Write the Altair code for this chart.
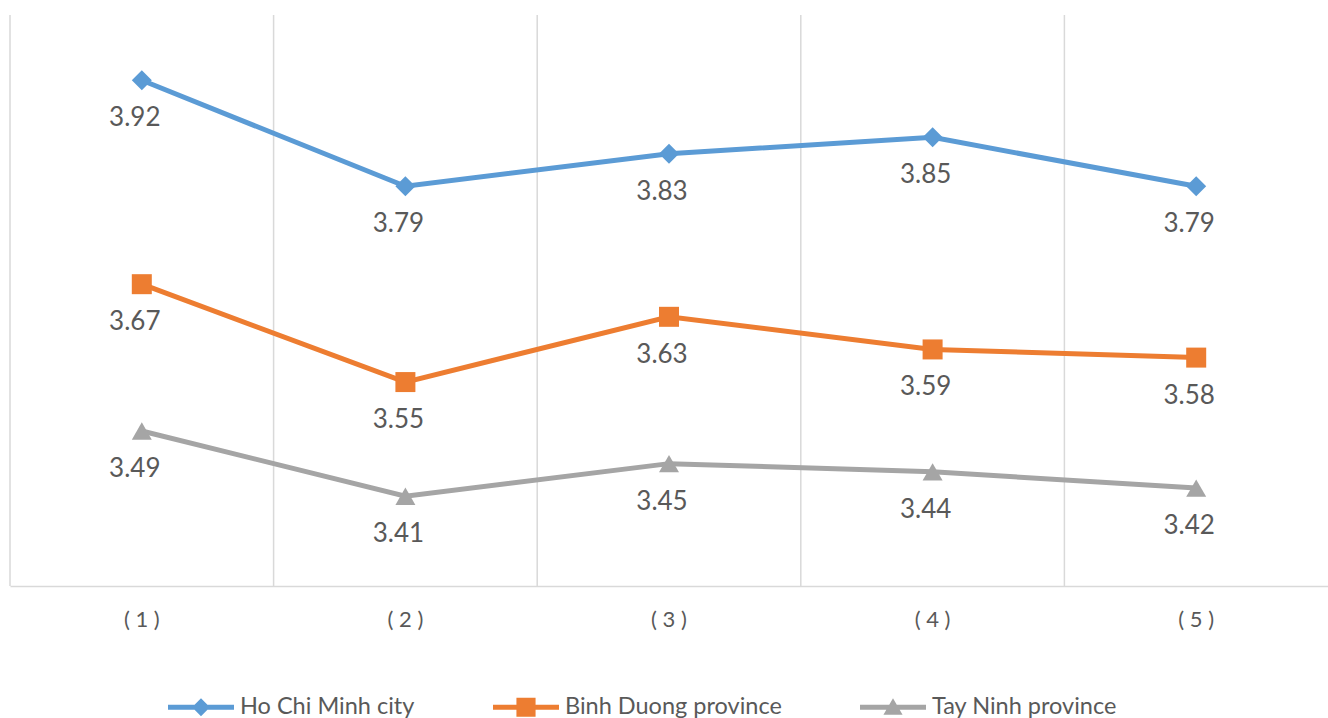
import altair as alt
import pandas as pd

# Survey scores by item (1)-(5) for three localities
categories = ["( 1 )", "( 2 )", "( 3 )", "( 4 )", "( 5 )"]
series_names = ["Ho Chi Minh city", "Binh Duong province", "Tay Ninh province"]
ho_chi_minh = [3.92, 3.79, 3.83, 3.85, 3.79]
binh_duong = [3.67, 3.55, 3.63, 3.59, 3.58]
tay_ninh = [3.49, 3.41, 3.45, 3.44, 3.42]

colors = ["#5B9BD5", "#ED7D31", "#A5A5A5"]
marker_shapes = ["diamond", "square", "triangle-up"]

# Legend glyphs: a short line segment with the series marker on top
legend_glyphs = [
    "M-1,-0.075H1V0.075H-1Z M0,-0.27L0.27,0L0,0.27L-0.27,0Z",
    "M-1,-0.075H1V0.075H-1Z M-0.29,-0.29H0.29V0.29H-0.29Z",
    "M-1,-0.075H1V0.075H-1Z M0,-0.27L0.29,0.23H-0.29Z",
]

FONT = "Lato"
TEXT_COLOR = "#595959"
GRID_COLOR = "#D9D9D9"
W, H = 1318, 571

rows = []
for name, vals in zip(series_names, [ho_chi_minh, binh_duong, tay_ninh]):
    for cat, v in zip(categories, vals):
        rows.append({"category": cat, "series": name, "value": v})
df = pd.DataFrame(rows)
cat_df = pd.DataFrame({"category": categories})

x_axis = alt.Axis(
    title=None, labelAngle=0, labelFont=FONT, labelFontSize=22,
    labelColor=TEXT_COLOR, labelPadding=23, ticks=False, grid=False,
    domainColor=GRID_COLOR, domainWidth=1.5,
)
x_scale = alt.Scale(paddingInner=0, paddingOuter=0)
x_enc = alt.X("category:N", sort=categories, scale=x_scale, axis=x_axis)
y_enc = alt.Y("value:Q", scale=alt.Scale(domain=[3.3, 4.0]), axis=None)

# Vertical separators at the start of every category band
grid = alt.Chart(cat_df).mark_rule(color=GRID_COLOR, strokeWidth=1.5).encode(
    x=alt.X("category:N", sort=categories, scale=x_scale, axis=x_axis, bandPosition=0)
)

series_layers = []
for name, col, shp in zip(series_names, colors, marker_shapes):
    base = alt.Chart(df).transform_filter(alt.datum.series == name)
    series_layers.append(
        base.mark_line(strokeWidth=5, color=col).encode(x=x_enc, y=y_enc)
    )
    series_layers.append(
        base.mark_point(shape=shp, filled=True, size=400, color=col, opacity=1, strokeWidth=0)
        .encode(x=x_enc, y=y_enc)
    )

labels = alt.Chart(df).mark_text(
    font=FONT, fontSize=26, color=TEXT_COLOR, dx=-7, dy=38, baseline="middle"
).encode(x=x_enc, y=y_enc, text=alt.Text("value:Q", format=".2f"))

legend_props = dict(
    title=None, orient="none", direction="horizontal",
    legendX=158, legendY=659,
    symbolSize=4356, symbolStrokeWidth=0,
    labelFont=FONT, labelFontSize=23.5, labelColor=TEXT_COLOR, labelLimit=0,
    labelOffset=6, columnPadding=78, padding=0, symbolOpacity=1,
)

# Legend-only layer (no rows drawn); entries come from the explicit scale domains
legend_layer = alt.Chart(df).transform_filter("false").mark_point(
    filled=True, opacity=1, strokeWidth=0
).encode(
    x=x_enc, y=y_enc,
    color=alt.Color(
        "series:N", scale=alt.Scale(domain=series_names, range=colors),
        legend=alt.Legend(**legend_props),
    ),
    shape=alt.Shape(
        "series:N", scale=alt.Scale(domain=series_names, range=legend_glyphs),
        legend=alt.Legend(**legend_props),
    ),
)

chart = alt.layer(grid, *series_layers, labels, legend_layer).properties(
    width=W, height=H,
    padding={"left": 10, "top": 15, "right": 0, "bottom": 132},
    autosize=alt.AutoSizeParams(type="none"),
    background="white",
).configure_view(strokeWidth=0)

chart.save("out.html", embed_options={"renderer": "svg", "actions": False})
